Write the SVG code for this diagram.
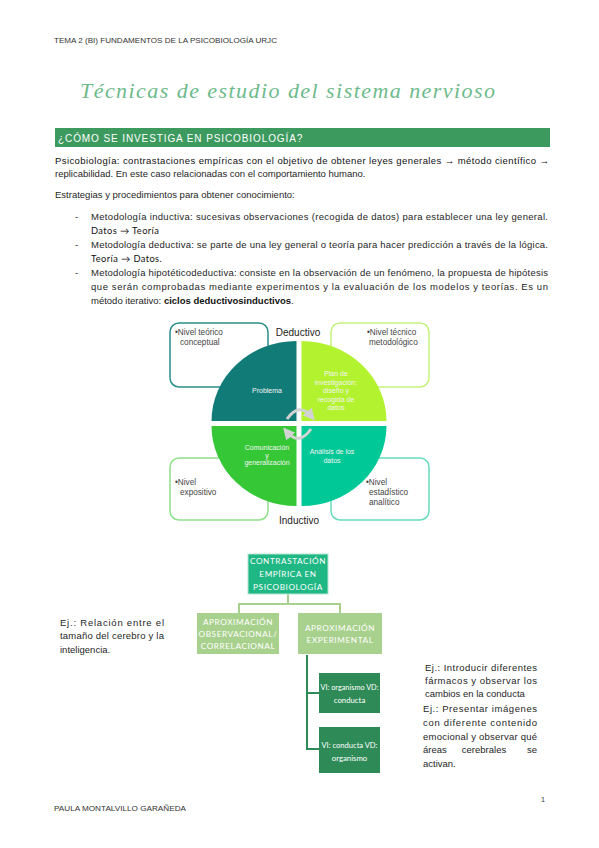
<svg xmlns="http://www.w3.org/2000/svg" width="599" height="848" viewBox="0 0 599 848">
<style>
.t{font-family:"Liberation Sans",Arial,sans-serif;font-size:9.5px;fill:#262626}
.hd{font-family:"Liberation Sans",Arial,sans-serif;font-size:7.2px;fill:#333}
.box{font-family:"Liberation Sans",Arial,sans-serif;font-size:8.2px;fill:#444}
.q{font-family:"Liberation Sans",Arial,sans-serif;font-size:7px;fill:#f4f4f4;text-anchor:middle}
.fc{font-family:Lato,"Open Sans",sans-serif;font-size:8.2px;fill:#fff;text-anchor:middle;letter-spacing:0.6px}
.fv{font-family:Lato,"Open Sans",sans-serif;font-size:7.8px;fill:#fff;text-anchor:middle}
.cal{font-family:Lato,"Open Sans",sans-serif;font-size:9.3px;fill:#111;letter-spacing:0.4px}
.conn{fill:none;stroke-width:2}
</style>
<rect width="599" height="848" fill="#fff"/>

<g id="header">
<text class="hd" x="54" y="43" textLength="223" lengthAdjust="spacingAndGlyphs">TEMA 2 (BI) FUNDAMENTOS DE LA PSICOBIOLOGÍA URJC</text>
<text x="80" y="98" font-family="'Liberation Serif',serif" font-style="italic" font-size="22" fill="#6dbb8c" textLength="415" lengthAdjust="spacing">Técnicas de estudio del sistema nervioso</text>
</g>

<g id="section-bar">
<rect x="55" y="128" width="495" height="19" fill="#3d9a5f"/>
<text x="58" y="142" font-family="'Liberation Sans',Arial,sans-serif" font-size="10px" fill="#fff" letter-spacing="0.9px">¿CÓMO SE INVESTIGA EN PSICOBIOLOGÍA?</text>
</g>

<g id="body-text">
<text class="t" x="55" y="164" textLength="494" lengthAdjust="spacing" style="fill:#111">Psicobiología: contrastaciones empíricas con el objetivo de obtener leyes generales → método científico →</text>
<text class="t" x="55" y="177">replicabilidad. En este caso relacionadas con el comportamiento humano.</text>
<text class="t" x="55" y="198">Estrategias y procedimientos para obtener conocimiento:</text>
<text class="t" x="75" y="220">-</text>
<text class="t" x="91" y="220" textLength="457" lengthAdjust="spacing">Metodología inductiva: sucesivas observaciones (recogida de datos) para establecer una ley general.</text>
<text class="cal" x="91" y="234">Datos → Teoría</text>
<text class="t" x="75" y="248">-</text>
<text class="t" x="91" y="248" textLength="457" lengthAdjust="spacing">Metodología deductiva: se parte de una ley general o teoría para hacer predicción a través de la lógica.</text>
<text class="cal" x="91" y="262">Teoría → Datos.</text>
<text class="t" x="75" y="276">-</text>
<text class="t" x="91" y="276" textLength="457" lengthAdjust="spacing">Metodología hipotéticodeductiva: consiste en la observación de un fenómeno, la propuesta de hipótesis</text>
<text class="t" x="91" y="290" textLength="457" lengthAdjust="spacing">que serán comprobadas mediante experimentos y la evaluación de los modelos y teorías. Es un</text>
<text class="t" x="91" y="304">método iterativo: <tspan font-weight="bold" fill="#111">ciclos deductivosinductivos</tspan>.</text>
</g>

<g id="cycle-boxes">
<rect x="170" y="323" width="98" height="64" rx="9" fill="#fff" stroke="#2a8f8c" stroke-width="1.5"/>
<rect x="331" y="323" width="98" height="64" rx="9" fill="#fff" stroke="#c4f57a" stroke-width="1.5"/>
<rect x="170" y="458" width="98" height="62" rx="9" fill="#fff" stroke="#8fe08a" stroke-width="1.5"/>
<rect x="331" y="458" width="98" height="62" rx="9" fill="#fff" stroke="#66dcbb" stroke-width="1.5"/>
</g>

<g id="q-problema">
<path d="M296.5 421 L296.5 341 A85 80 0 0 0 211.5 421 Z" fill="#117b78"/>
<text class="q" x="267" y="393">Problema</text>
</g>
<g id="q-plan">
<path d="M301.5 421 L301.5 341 A85 80 0 0 1 386.5 421 Z" fill="#b3f22f"/>
<text class="q" x="336" y="376">Plan de</text>
<text class="q" x="336" y="384.5">investigación:</text>
<text class="q" x="336" y="393">diseño y</text>
<text class="q" x="336" y="401.5">recogida de</text>
<text class="q" x="336" y="410">datos</text>
</g>
<g id="q-comunicacion">
<path d="M296.5 426 L296.5 506 A85 80 0 0 1 211.5 426 Z" fill="#36c737"/>
<text class="q" x="267" y="450">Comunicación</text>
<text class="q" x="267" y="457.5">y</text>
<text class="q" x="267" y="465">generalización</text>
</g>
<g id="q-analisis">
<path d="M301.5 426 L301.5 506 A85 80 0 0 0 386.5 426 Z" fill="#00c897"/>
<text class="q" x="332" y="454">Análisis de los</text>
<text class="q" x="332" y="462.5">datos</text>
</g>

<g id="cycle-labels">
<text class="box" x="175" y="335">•Nivel teórico</text>
<text class="box" x="180" y="345">conceptual</text>
<text class="box" x="367" y="335">•Nivel técnico</text>
<text class="box" x="369" y="345">metodológico</text>
<text class="box" x="175" y="485">•Nivel</text>
<text class="box" x="180" y="495">expositivo</text>
<text class="box" x="366" y="485">•Nivel</text>
<text class="box" x="369" y="495">estadístico</text>
<text class="box" x="369" y="505">analítico</text>
<text x="298" y="336" font-family="'Liberation Sans',Arial,sans-serif" font-size="10px" fill="#222" text-anchor="middle">Deductivo</text>
<text x="299" y="524" font-family="'Liberation Sans',Arial,sans-serif" font-size="10px" fill="#222" text-anchor="middle">Inductivo</text>
</g>

<g id="connectors">
<defs>
<marker id="ah" markerWidth="4" markerHeight="4" refX="2" refY="2" orient="auto" markerUnits="strokeWidth"><path d="M0,0 L4,2 L0,4 Z" fill="#d3d3d3"/></marker>
</defs>
<path d="M287 419 Q299 402 311 416" fill="none" stroke="#d3d3d3" stroke-width="3" marker-end="url(#ah)"/>
<path d="M311 429 Q299 446 287 432" fill="none" stroke="#d3d3d3" stroke-width="3" marker-end="url(#ah)"/>
<path class="conn" d="M288 594 V604 M239 604 H340 M239 603 V613 M340 603 V613" stroke="#a9d18e"/>
<path class="conn" d="M307 655 V749 H320 M307 693 H320" stroke="#2e8b57"/>
</g>

<g id="n-contrastacion">
<rect x="248" y="554" width="80" height="40" fill="#1fb784" stroke="#b6e6cf" stroke-width="1"/>
<text class="fc" x="288" y="564">CONTRASTACIÓN</text>
<text class="fc" x="288" y="577">EMPÍRICA EN</text>
<text class="fc" x="288" y="590">PSICOBIOLOGÍA</text>
</g>
<g id="n-observacional">
<rect x="197" y="613" width="82" height="41" fill="#a9d18e"/>
<text class="fc" x="238" y="625">APROXIMACIÓN</text>
<text class="fc" x="238" y="637">OBSERVACIONAL/</text>
<text class="fc" x="238" y="649">CORRELACIONAL</text>
</g>
<g id="n-experimental">
<rect x="298" y="613" width="84" height="41" fill="#a9d18e"/>
<text class="fc" x="340" y="631">APROXIMACIÓN</text>
<text class="fc" x="340" y="643">EXPERIMENTAL</text>
</g>
<g id="n-vi-organismo">
<rect x="319" y="673" width="61" height="40" fill="#2e8b57"/>
<text class="fv" x="349.5" y="690" textLength="58" lengthAdjust="spacingAndGlyphs">VI: organismo VD:</text>
<text class="fv" x="349.5" y="703">conducta</text>
</g>
<g id="n-vi-conducta">
<rect x="319" y="727" width="61" height="46" fill="#2e8b57"/>
<text class="fv" x="349.5" y="748" textLength="56" lengthAdjust="spacingAndGlyphs">VI: conducta VD:</text>
<text class="fv" x="349.5" y="761">organismo</text>
</g>

<g id="examples">
<text class="t" x="60" y="626" textLength="104" lengthAdjust="spacing">Ej.: Relación entre el</text>
<text class="t" x="60" y="639" textLength="104" lengthAdjust="spacing">tamaño del cerebro y la</text>
<text class="t" x="60" y="653">inteligencia.</text>
<text class="t" x="425" y="671" textLength="112" lengthAdjust="spacing">Ej.: Introducir diferentes</text>
<text class="t" x="425" y="684" textLength="112" lengthAdjust="spacing">fármacos y observar los</text>
<text class="t" x="425" y="697">cambios en la conducta</text>
<text class="t" x="423" y="712" textLength="114" lengthAdjust="spacing">Ej.: Presentar imágenes</text>
<text class="t" x="423" y="726" textLength="114" lengthAdjust="spacing">con diferente contenido</text>
<text class="t" x="423" y="740" textLength="114" lengthAdjust="spacing">emocional y observar qué</text>
<text class="t" x="423" y="753">áreas</text>
<text class="t" x="484" y="753" text-anchor="middle">cerebrales</text>
<text class="t" x="537" y="753" text-anchor="end">se</text>
<text class="t" x="423" y="767">activan.</text>
</g>

<g id="footer">
<text class="hd" x="54" y="811" textLength="132" lengthAdjust="spacingAndGlyphs">PAULA MONTALVILLO GARAÑEDA</text>
<text class="hd" x="541" y="802">1</text>
</g>
</svg>
